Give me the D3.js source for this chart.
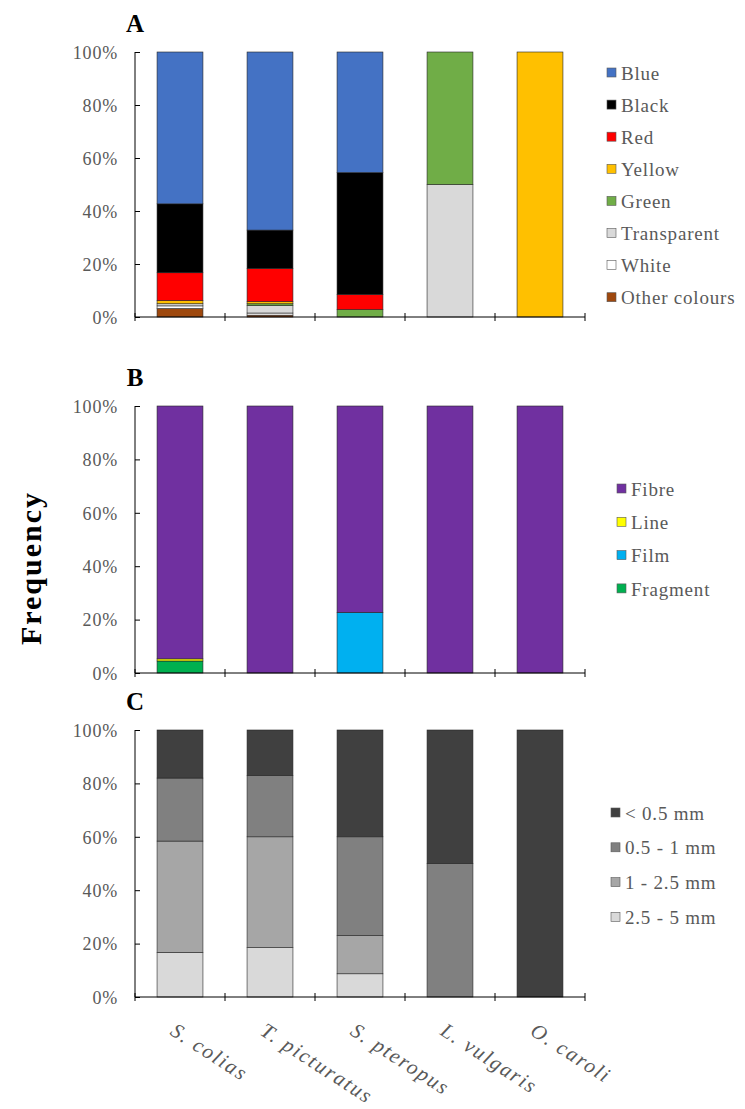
<!DOCTYPE html>
<html>
<head>
<meta charset="utf-8">
<title>Microplastic colours, shapes and sizes</title>
<style>
  html, body { margin: 0; padding: 0; background: #fff; }
  svg text { font-family: "Liberation Serif", "Times New Roman", serif; fill: #595959; }
  .panel-letter { font-weight: bold; font-size: 25px; fill: #000; }
  .ylab { font-weight: bold; font-size: 30px; fill: #000; letter-spacing: 2px; }
  .tick text { font-size: 18px; letter-spacing: 0.8px; }
  .legend text { font-size: 19px; letter-spacing: 0.8px; }
  .xlab { font-size: 21px; font-style: italic; letter-spacing: 1.8px; }
</style>
</head>
<body>
<svg width="745" height="1109"></svg>
<script src="https://cdn.jsdelivr.net/npm/d3@7"></script>
<script>
// categories
var species = ["S. colias", "T. picturatus", "S. pteropus", "L. vulgaris", "O. caroli"];

// A - colours (% per species)
var colourNames = ["Blue", "Black", "Red", "Yellow", "Green", "Transparent", "White", "Other colours"];
var colourFill = ["#4472C4", "#000000", "#FF0000", "#FFC000", "#70AD47", "#D9D9D9", "#FFFFFF", "#9E480E"];
var blue        = [57.3, 67.2, 45.5, 0, 0];
var black       = [26.0, 14.5, 46.0, 0, 0];
var red         = [10.5, 12.5, 5.7, 0, 0];
var yellow      = [1.2, 0.8, 0, 0, 100];
var green       = [0, 0.7, 2.8, 50, 0];
var transparent = [0.8, 2.8, 0, 50, 0];
var white       = [1.0, 0.8, 0, 0, 0];
var otherCol    = [3.2, 0.7, 0, 0, 0];

// B - shapes
var shapeNames = ["Fibre", "Line", "Film", "Fragment"];
var shapeFill = ["#7030A0", "#FFFF00", "#00B0F0", "#00B050"];
var fibre    = [94.7, 100, 77.3, 100, 100];
var line     = [0.8, 0, 0, 0, 0];
var film     = [0, 0, 22.7, 0, 0];
var fragment = [4.5, 0, 0, 0, 0];

// C - sizes
var sizeNames = ["< 0.5 mm", "0.5 - 1 mm", "1 - 2.5 mm", "2.5 - 5 mm"];
var sizeFill = ["#404040", "#808080", "#A6A6A6", "#D9D9D9"];
var under05 = [18.0, 17.0, 40.0, 50, 100];
var s05to1  = [23.6, 23.0, 37.0, 50, 0];
var s1to25  = [41.7, 41.5, 14.3, 0, 0];
var s25to5  = [16.7, 18.5, 8.7, 0, 0];

var yTicks = [0, 20, 40, 60, 80, 100];

var svg = d3.select("svg");

var x = d3.scaleBand()
  .domain(species)
  .range([135, 585])
  .paddingInner(0.49)
  .paddingOuter(0.245);

// legend entries listed top-down; stacks go bottom-up (reverse of legend)
var panels = [
  { letter: "A", top: 52, bottom: 317, names: colourNames, fills: colourFill,
    series: [blue, black, red, yellow, green, transparent, white, otherCol],
    legX: 607, legY: 73, legStep: 32.1 },
  { letter: "B", top: 406, bottom: 673, names: shapeNames, fills: shapeFill,
    series: [fibre, line, film, fragment],
    legX: 617, legY: 489, legStep: 33.3 },
  { letter: "C", top: 730, bottom: 997, names: sizeNames, fills: sizeFill,
    series: [under05, s05to1, s1to25, s25to5],
    legX: 611, legY: 813, legStep: 34.8 }
];

panels.forEach(function(p) {
  var y = d3.scaleLinear().domain([0, 100]).range([p.bottom, p.top]);
  var g = svg.append("g");

  // rows for d3.stack
  var rows = species.map(function(s, i) {
    var r = { sp: s };
    p.names.forEach(function(n, k) { r[n] = p.series[k][i]; });
    return r;
  });
  var keys = p.names.slice().reverse();
  var stacked = d3.stack().keys(keys)(rows);
  var fillOf = {};
  p.names.forEach(function(n, k) { fillOf[n] = p.fills[k]; });

  g.selectAll("g.layer")
    .data(stacked)
    .enter().append("g")
    .attr("class", "layer")
    .attr("fill", function(d) { return fillOf[d.key]; })
    .selectAll("rect")
    .data(function(d) { return d.filter(function(v) { return v[1] - v[0] > 0; }); })
    .enter().append("rect")
    .attr("x", function(d) { return x(d.data.sp); })
    .attr("width", x.bandwidth())
    .attr("y", function(d) { return y(d[1]); })
    .attr("height", function(d) { return y(d[0]) - y(d[1]); })
    .attr("stroke", "#262626")
    .attr("stroke-width", 0.6);

  // y axis, ticks pointing into the plot
  var yAxis = d3.axisRight(y)
    .tickValues(yTicks)
    .tickFormat(function(d) { return d + "%"; })
    .tickSize(5);
  var ya = g.append("g").attr("transform", "translate(135,0)").call(yAxis);
  ya.select(".domain").attr("d", "M0," + p.top + "V" + p.bottom).attr("stroke", "#000");
  ya.selectAll(".tick line").attr("stroke", "#000");
  ya.selectAll(".tick text")
    .attr("x", -17)
    .attr("text-anchor", "end")
    .attr("dy", "0.35em");

  // x axis line with ticks at category boundaries
  var bounds = species.map(function(s, i) { return 135 + i * x.step(); });
  bounds.push(585);
  g.append("line")
    .attr("x1", 135).attr("x2", 585)
    .attr("y1", p.bottom).attr("y2", p.bottom)
    .attr("stroke", "#000");
  g.selectAll("line.xt")
    .data(bounds)
    .enter().append("line")
    .attr("class", "xt")
    .attr("x1", function(d) { return d; }).attr("x2", function(d) { return d; })
    .attr("y1", p.bottom - 4).attr("y2", p.bottom + 4)
    .attr("stroke", "#000");

  g.append("text")
    .attr("class", "panel-letter")
    .attr("x", 135).attr("y", p.top - 20)
    .attr("text-anchor", "middle")
    .text(p.letter);

  // legend
  var leg = g.append("g").attr("class", "legend");
  var items = leg.selectAll("g")
    .data(p.names)
    .enter().append("g")
    .attr("transform", function(d, i) { return "translate(" + p.legX + "," + (p.legY + i * p.legStep) + ")"; });
  items.append("rect")
    .attr("x", 0).attr("y", -5)
    .attr("width", 9).attr("height", 9)
    .attr("fill", function(d) { return fillOf[d]; })
    .attr("stroke", "#595959")
    .attr("stroke-width", 0.6);
  items.append("text")
    .attr("x", 14).attr("y", 0)
    .attr("dy", "0.35em")
    .text(function(d) { return d; });
});

// rotated species labels under the last panel
svg.append("g")
  .selectAll("text")
  .data(species)
  .enter().append("text")
  .attr("class", "xlab")
  .attr("transform", function(d) {
    return "translate(" + (x(d) + x.bandwidth() / 2 - 11) + ",1034) rotate(33)";
  })
  .text(function(d) { return d; });

svg.append("text")
  .attr("class", "ylab")
  .attr("transform", "translate(41,568) rotate(-90)")
  .attr("text-anchor", "middle")
  .text("Frequency");
</script>
</body>
</html>
